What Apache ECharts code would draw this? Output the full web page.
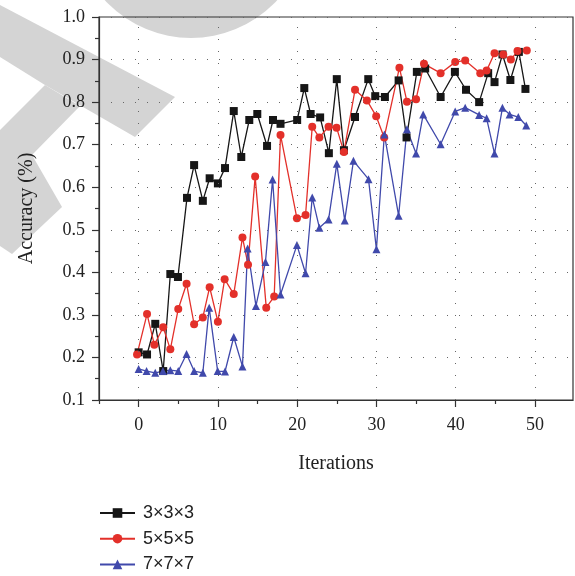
<!DOCTYPE html>
<html>
<head>
<meta charset="utf-8">
<script src="https://cdn.jsdelivr.net/npm/echarts@6/dist/echarts.min.js"></script>
<style>
  html, body { margin: 0; padding: 0; background: #fff; }
  #chart { width: 575px; height: 576px; }
</style>
</head>
<body>
<div id="chart"></div>
<script>
// Accuracy per training iteration for three kernel sizes
const seriesNames = ['3\u00d73\u00d73', '5\u00d75\u00d75', '7\u00d77\u00d77'];

const iterK3 = [0, 1.06, 2.1, 3.1, 4.0, 4.96, 6.1, 7.0, 8.1, 8.96, 10.0, 10.9, 12.0, 12.95, 13.96, 14.97, 16.2, 16.95, 17.9, 20.0, 20.9, 21.7, 22.9, 24.0, 25.0, 25.9, 27.3, 28.97, 29.85, 31.07, 32.8, 33.8, 35.1, 36.15, 38.1, 39.9, 41.3, 42.96, 44.1, 44.9, 45.9, 46.9, 47.97, 48.8];
const accK3 = [0.212, 0.207, 0.279, 0.168, 0.396, 0.389, 0.575, 0.652, 0.568, 0.621, 0.609, 0.645, 0.779, 0.671, 0.758, 0.772, 0.697, 0.758, 0.749, 0.758, 0.833, 0.772, 0.764, 0.680, 0.854, 0.687, 0.765, 0.854, 0.814, 0.812, 0.851, 0.717, 0.871, 0.879, 0.812, 0.871, 0.829, 0.800, 0.868, 0.847, 0.912, 0.852, 0.918, 0.831];

const iterK5 = [-0.2, 1.06, 1.98, 3.1, 4.0, 5.0, 6.05, 7.0, 8.1, 8.96, 10.0, 10.85, 12.0, 13.1, 13.8, 14.7, 16.1, 17.1, 17.9, 19.97, 21.06, 21.9, 22.8, 23.96, 24.97, 25.9, 27.3, 28.8, 29.97, 30.98, 32.9, 33.85, 35.0, 36.0, 38.1, 39.94, 41.2, 43.1, 43.9, 44.9, 46.0, 46.96, 47.8, 48.97];
const accK5 = [0.207, 0.302, 0.230, 0.271, 0.219, 0.314, 0.373, 0.278, 0.294, 0.365, 0.284, 0.384, 0.349, 0.482, 0.418, 0.625, 0.317, 0.343, 0.723, 0.527, 0.535, 0.742, 0.717, 0.742, 0.740, 0.683, 0.829, 0.804, 0.767, 0.717, 0.881, 0.801, 0.807, 0.890, 0.868, 0.894, 0.898, 0.868, 0.874, 0.915, 0.912, 0.900, 0.920, 0.921];

const iterK7 = [0, 1.0, 2.1, 3.07, 4.0, 5.0, 6.05, 7.0, 8.1, 8.9, 9.97, 10.9, 12.0, 13.1, 13.75, 14.8, 16.0, 16.9, 17.9, 19.97, 21.06, 21.9, 22.8, 23.96, 25.0, 26.0, 27.1, 29.0, 30.0, 31.0, 32.8, 33.85, 35.0, 35.9, 38.1, 39.94, 41.2, 42.96, 43.9, 44.9, 45.9, 46.8, 47.9, 48.9];
const accK7 = [0.173, 0.168, 0.164, 0.168, 0.170, 0.168, 0.208, 0.168, 0.164, 0.317, 0.168, 0.167, 0.248, 0.179, 0.456, 0.321, 0.424, 0.618, 0.348, 0.464, 0.398, 0.576, 0.505, 0.524, 0.655, 0.522, 0.662, 0.619, 0.454, 0.724, 0.533, 0.736, 0.679, 0.771, 0.701, 0.778, 0.787, 0.770, 0.762, 0.679, 0.787, 0.771, 0.765, 0.745];

const xMajorTicks = [0, 10, 20, 30, 40, 50];
const xMinorTicks = [-5, 5, 15, 25, 35, 45];

const pair = (xs, ys) => xs.map((x, i) => [x, ys[i]]);

const serif = 'Liberation Serif';
const sans = 'Liberation Sans';
const axisColor = '#333';
const textColor = '#222';
const gridColor = '#666';
const shade = '#d4d4d4';
const dotted = { color: gridColor, width: 1, type: [1, 11] };

const chart = echarts.init(document.getElementById('chart'), null, { renderer: 'canvas' });

const lineSeries = (name, xs, ys, color, symbol, size) => ({
  name: name,
  type: 'line',
  data: pair(xs, ys),
  symbol: symbol,
  symbolSize: size,
  color: color,
  z: 3,
  lineStyle: { width: 1.3, color: color },
  itemStyle: { color: color },
  emphasis: { disabled: true },
  animation: false
});

chart.setOption({
  backgroundColor: '#fff',
  animation: false,
  graphic: {
    elements: [
      { type: 'circle', z: -100, shape: { cx: 191, cy: -79, r: 117 }, style: { fill: shade } },
      { type: 'polygon', z: -100, shape: { points: [[0, 5], [175, 97], [135, 137], [45, 85], [0, 57]] }, style: { fill: shade } },
      { type: 'polygon', z: -100, shape: { points: [[10, 120], [45, 85], [80, 106], [32, 155], [62, 207], [12, 254], [0, 246], [0, 130]] }, style: { fill: shade } }
    ]
  },
  grid: {
    left: 99, right: 2, top: 17, bottom: 176,
    show: true, borderColor: axisColor, borderWidth: 1.2, backgroundColor: 'transparent'
  },
  legend: {
    orient: 'vertical',
    left: 99,
    top: 504,
    height: 120,
    padding: 0,
    itemWidth: 35,
    itemHeight: 12,
    itemGap: 7.7,
    data: seriesNames,
    textStyle: { fontFamily: sans, fontSize: 18, color: textColor, padding: [0, 0, 0, 3] },
    selectedMode: false
  },
  xAxis: [
    {
      type: 'value',
      min: -5, max: 54.8,
      position: 'bottom',
      name: 'Iterations',
      nameLocation: 'middle',
      nameGap: 54,
      nameTextStyle: { fontFamily: serif, fontSize: 20, color: textColor },
      axisLine: { show: true, onZero: false, lineStyle: { color: axisColor, width: 1.2 } },
      axisTick: { show: true, length: 7, customValues: xMajorTicks, lineStyle: { color: axisColor, width: 1.2 } },
      axisLabel: { customValues: xMajorTicks, margin: 16, fontFamily: serif, fontSize: 18, color: textColor },
      splitLine: { show: false }
    },
    {
      type: 'value',
      min: -5, max: 54.8,
      position: 'bottom',
      axisLine: { show: false },
      axisTick: { show: true, length: 4, customValues: xMinorTicks, lineStyle: { color: axisColor, width: 1.2 } },
      axisLabel: { show: false },
      splitLine: { show: false }
    }
  ],
  yAxis: {
    type: 'value',
    min: 0.1, max: 1.0, interval: 0.1,
    name: 'Accuracy (%)',
    nameLocation: 'middle',
    nameRotate: 90,
    nameGap: 62,
    nameTextStyle: { fontFamily: serif, fontSize: 20, color: textColor },
    axisLine: { show: true, onZero: false, lineStyle: { color: axisColor, width: 1.2 } },
    axisTick: { show: true, length: 7, lineStyle: { color: axisColor, width: 1.2 } },
    minorTick: { show: true, splitNumber: 2, length: 4, lineStyle: { color: axisColor, width: 1.2 } },
    axisLabel: { margin: 14, fontFamily: serif, fontSize: 18, color: textColor, formatter: v => v.toFixed(1) },
    splitLine: { show: true, lineStyle: dotted }
  },
  series: [
    {
      // vertical dotted guides at the labelled iterations
      name: 'xGuides',
      type: 'line',
      data: [],
      z: 1,
      silent: true,
      animation: false,
      markLine: {
        silent: true,
        animation: false,
        symbol: ['none', 'none'],
        label: { show: false },
        emphasis: { disabled: true },
        lineStyle: dotted,
        data: xMajorTicks.map(v => ({ xAxis: v }))
      }
    },
    lineSeries(seriesNames[0], iterK3, accK3, '#161616', 'rect', 8),
    lineSeries(seriesNames[1], iterK5, accK5, '#e3302a', 'circle', 8),
    lineSeries(seriesNames[2], iterK7, accK7, '#4049ab', 'triangle', 8)
  ]
});
</script>
</body>
</html>
